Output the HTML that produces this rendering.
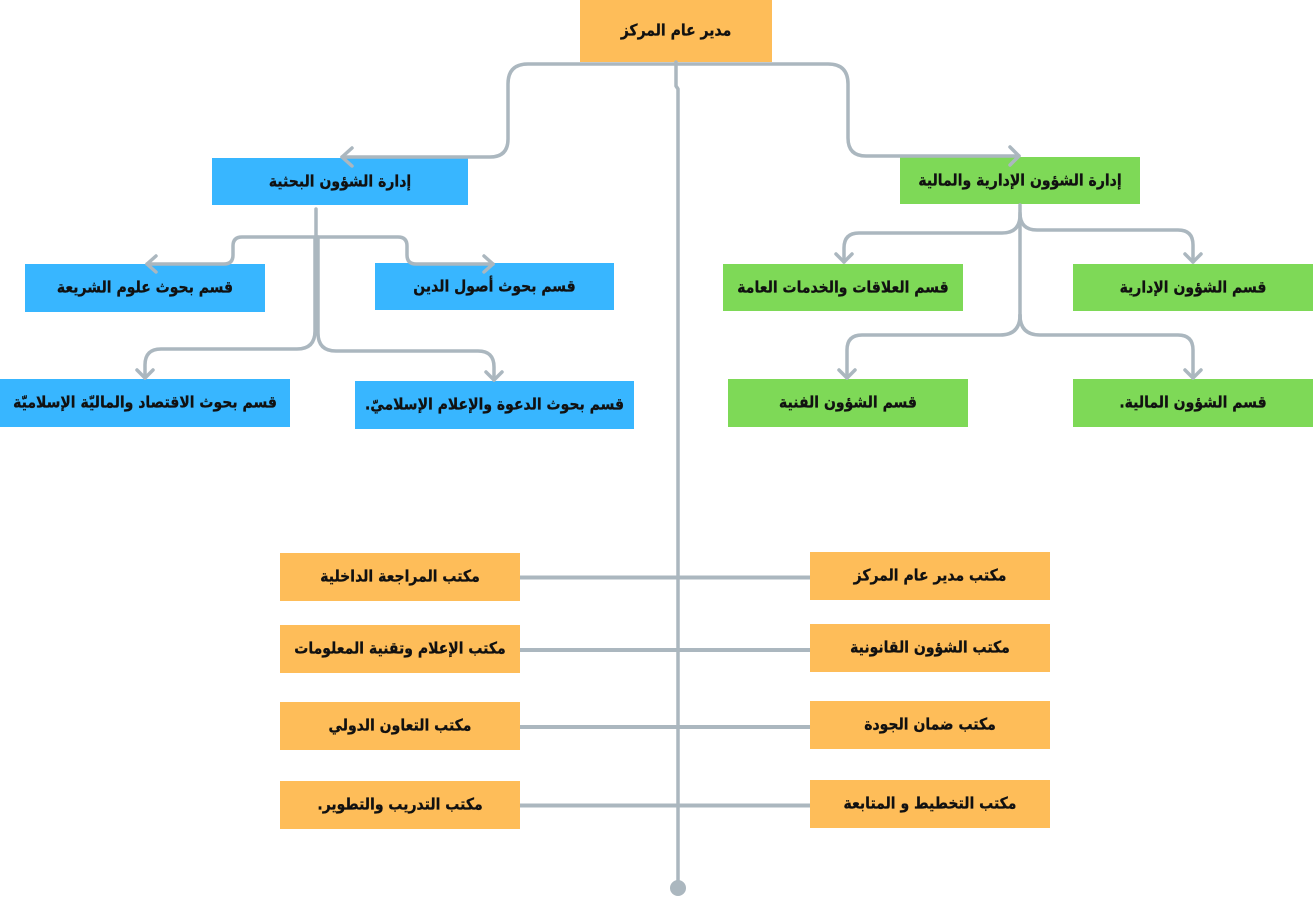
<!DOCTYPE html>
<html lang="ar">
<head>
<meta charset="utf-8">
<style>
  html,body{margin:0;padding:0;background:#fff;}
  body{width:1313px;height:904px;position:relative;overflow:hidden;}
  svg{position:absolute;left:0;top:0;z-index:2;pointer-events:none;}
  .b{position:absolute;display:flex;align-items:center;justify-content:center;
     font-family:"DejaVu Sans","Liberation Sans",sans-serif;font-weight:bold;
     font-size:14px;color:#111;direction:rtl;white-space:nowrap;z-index:1;}
  .b span{display:inline-block;transform:scaleY(1.15);-webkit-text-stroke:0.25px #111;}
  .o{background:#FEBD59;}
  .bl{background:#38B6FF;}
  .g{background:#7ED957;}
</style>
</head>
<body>
<div class="b o" style="left:580px;top:0;width:192px;height:62px;"><span>مدير عام المركز</span></div>

<div class="b bl" style="left:212px;top:158px;width:256px;height:47px;"><span>إدارة الشؤون البحثية</span></div>
<div class="b g" style="left:900px;top:157px;width:240px;height:47px;"><span>إدارة الشؤون الإدارية والمالية</span></div>

<div class="b bl" style="left:25px;top:264px;width:240px;height:48px;"><span>قسم بحوث علوم الشريعة</span></div>
<div class="b bl" style="left:375px;top:263px;width:239px;height:47px;"><span>قسم بحوث أصول الدين</span></div>
<div class="b bl" style="left:0;top:379px;width:290px;height:48px;"><span>قسم بحوث الاقتصاد والماليّة الإسلاميّة</span></div>
<div class="b bl" style="left:355px;top:381px;width:279px;height:48px;"><span>قسم بحوث الدعوة والإعلام الإسلاميّ.</span></div>

<div class="b g" style="left:723px;top:264px;width:240px;height:47px;"><span>قسم العلاقات والخدمات العامة</span></div>
<div class="b g" style="left:1073px;top:264px;width:240px;height:47px;"><span>قسم الشؤون الإدارية</span></div>
<div class="b g" style="left:728px;top:379px;width:240px;height:48px;"><span>قسم الشؤون الفنية</span></div>
<div class="b g" style="left:1073px;top:379px;width:240px;height:48px;"><span>قسم الشؤون المالية.</span></div>

<div class="b o" style="left:280px;top:553px;width:240px;height:48px;"><span>مكتب المراجعة الداخلية</span></div>
<div class="b o" style="left:280px;top:625px;width:240px;height:48px;"><span>مكتب الإعلام وتقنية المعلومات</span></div>
<div class="b o" style="left:280px;top:702px;width:240px;height:48px;"><span>مكتب التعاون الدولي</span></div>
<div class="b o" style="left:280px;top:781px;width:240px;height:48px;"><span>مكتب التدريب والتطوير.</span></div>

<div class="b o" style="left:810px;top:552px;width:240px;height:48px;"><span>مكتب مدير عام المركز</span></div>
<div class="b o" style="left:810px;top:624px;width:240px;height:48px;"><span>مكتب الشؤون القانونية</span></div>
<div class="b o" style="left:810px;top:701px;width:240px;height:48px;"><span>مكتب ضمان الجودة</span></div>
<div class="b o" style="left:810px;top:780px;width:240px;height:48px;"><span>مكتب التخطيط و المتابعة</span></div>

<svg width="1313" height="904" viewBox="0 0 1313 904">
  <g fill="none" stroke="#ABB7BF" stroke-width="3.5" stroke-linecap="round" stroke-linejoin="round">
    <!-- top connectors -->
    <path d="M676,64 H528 Q508,64 508,84 V139 Q508,157 490,157 H342"/>
    <path d="M352,148 L342,157 L352,166"/>
    <path d="M678,64 H828 Q848,64 848,84 V138 Q848,156 866,156 H1019"/>
    <path d="M1010,147 L1019,156 L1010,165"/>
    <!-- main vertical -->
    <path d="M676,62 V86 L678,89 V888"/>
    <!-- blue branches -->
    <path d="M316,209 V240"/>
    <path d="M316,237 H242 Q233,237 233,246 V255 Q233,264 224,264 H147"/>
    <path d="M156,256 L147,264 L156,272"/>
    <path d="M318,237 H398 Q407,237 407,246 V255 Q407,264 416,264 H493"/>
    <path d="M484,256 L493,264 L484,272"/>
    <path d="M315,237 V331 Q315,349 297,349 H161 Q145,349 145,365 V378"/>
    <path d="M137,370 L145,378 L153,370"/>
    <path d="M318,237 V333 Q318,351 336,351 H478 Q494,351 494,367 V380"/>
    <path d="M486,372 L494,380 L502,372"/>
    <!-- green branches -->
    <path d="M1020,205 V318"/>
    <path d="M1020,215 Q1020,233 1002,233 H859 Q844,233 844,248 V262"/>
    <path d="M836,254 L844,262 L852,254"/>
    <path d="M1020,213 Q1020,230 1037,230 H1178 Q1193,230 1193,245 V262"/>
    <path d="M1185,254 L1193,262 L1201,254"/>
    <path d="M1020,315 Q1020,335 1000,335 H862 Q847,335 847,350 V378"/>
    <path d="M839,370 L847,378 L855,370"/>
    <path d="M1020,315 Q1020,335 1040,335 H1178 Q1193,335 1193,350 V378"/>
    <path d="M1185,370 L1193,378 L1201,370"/>
  </g>
  <g stroke="#ABB7BF" stroke-width="4">
    <line x1="520" y1="577.5" x2="810" y2="577.5"/>
    <line x1="520" y1="650" x2="810" y2="650"/>
    <line x1="520" y1="727" x2="810" y2="727"/>
    <line x1="520" y1="805.5" x2="810" y2="805.5"/>
  </g>
  <circle cx="678" cy="888" r="8" fill="#ABB7BF"/>
</svg>
</body>
</html>
